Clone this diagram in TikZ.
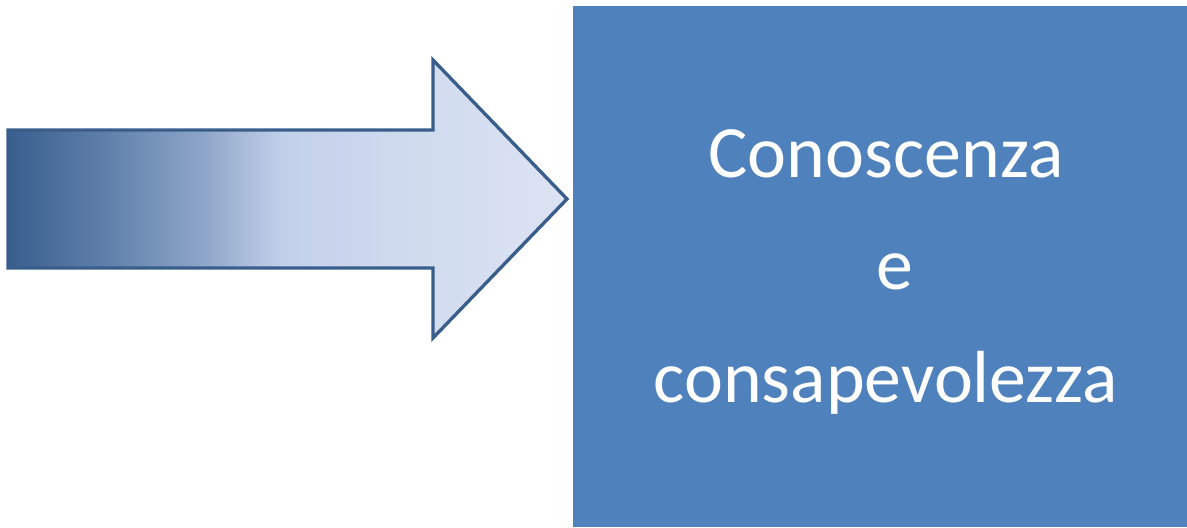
\documentclass[tikz,border=0pt]{standalone}
\usepackage{fontspec}
\setmainfont{Carlito}
\usepackage{tikz}

\definecolor{arrowline}{RGB}{58,94,140}
\definecolor{boxblue}{RGB}{79,129,189}

% shading of the arrow, dark on the left and light on the right
\pgfdeclarehorizontalshading{arrowshade}{100bp}{
  rgb(0bp)=(0.224,0.369,0.557); rgb(25bp)=(0.224,0.369,0.557);
  rgb(33.5bp)=(0.369,0.498,0.663); rgb(42.5bp)=(0.557,0.651,0.788);
  rgb(49.5bp)=(0.761,0.816,0.918); rgb(60bp)=(0.812,0.855,0.933);
  rgb(75bp)=(0.863,0.890,0.953); rgb(100bp)=(0.863,0.890,0.953)}

\begin{document}
\begin{tikzpicture}
%\draw[help lines] (0,0) grid (24,11);
\useasboundingbox (0,0) rectangle (23.74,10.54);

% Define the points of the arrow
\pgfmathsetmacro{\Xleft}{0.16};
\pgfmathsetmacro{\Xneck}{8.66};
\pgfmathsetmacro{\Xtip}{11.34};
\pgfmathsetmacro{\Yheadbot}{3.78};
\pgfmathsetmacro{\Yshaftbot}{5.18};
\pgfmathsetmacro{\Ymid}{6.56};
\pgfmathsetmacro{\Yshafttop}{7.94};
\pgfmathsetmacro{\Yheadtop}{9.34};

% draw the arrow outline with its shading
\draw [arrowline,line width=1.9pt,shading=arrowshade]
      (\Xleft,\Yshaftbot) -- (\Xleft,\Yshafttop) -- (\Xneck,\Yshafttop)
      -- (\Xneck,\Yheadtop) -- (\Xtip,\Ymid) -- (\Xneck,\Yheadbot)
      -- (\Xneck,\Yshaftbot) -- cycle;

% the blue box and its text
\node [fill=boxblue,inner sep=0pt,outer sep=0pt,minimum width=12.28cm,minimum height=10.42cm] (box) at (17.6,5.21) {};
\node [white,align=center,font=\fontsize{42}{64}\selectfont] (boxtext) at ([xshift=0.12cm,yshift=-0.11cm]box.center)
      {Conoscenza\\ \hspace*{0.25em}e\\ consapevolezza};
\end{tikzpicture}
\end{document}
